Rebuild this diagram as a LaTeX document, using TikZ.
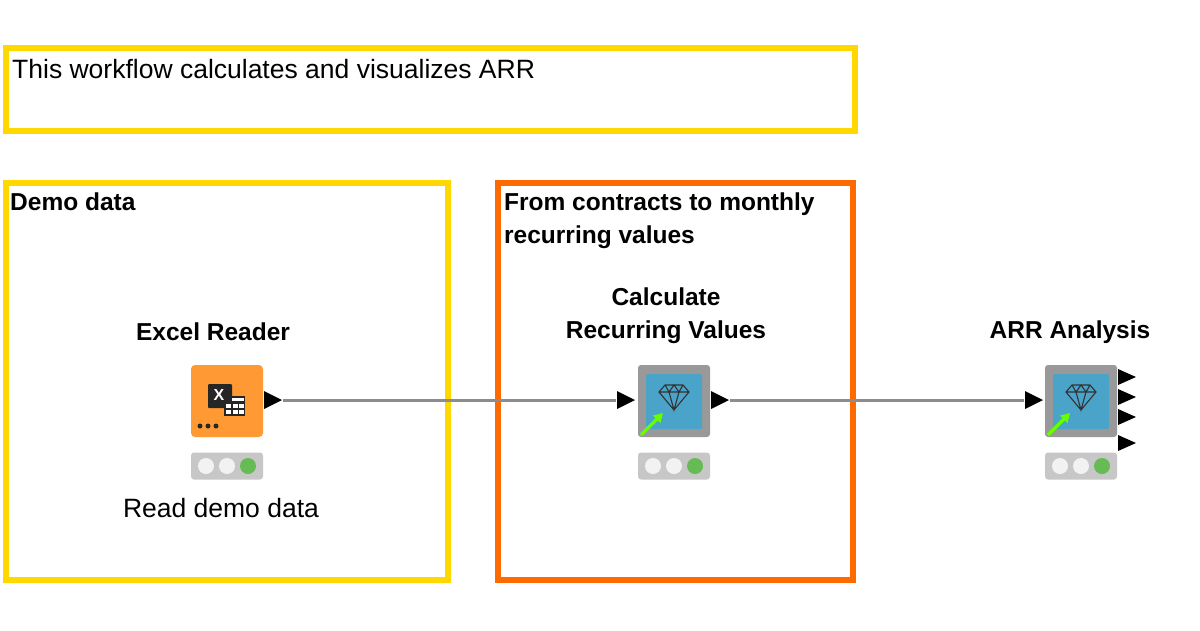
\documentclass[tikz,border=0pt]{standalone}
\usepackage{fontspec}
\usetikzlibrary{arrows.meta}
\setmainfont{Liberation Sans}
\begin{document}
\begin{tikzpicture}[x=1pt,y=-1pt,
  ybox/.style={draw=annY,line width=6pt},
  obox/.style={draw=annO,line width=6pt},
  title/.style={font=\fontsize{24.5}{33}\selectfont\bfseries,anchor=north west,align=left,inner sep=0},
  lab/.style={font=\fontsize{24.5}{33}\selectfont\bfseries,align=center,inner sep=0},
  reg/.style={font=\fontsize{26.5}{30}\selectfont,inner sep=0},
  conn/.style={draw=black!45,line width=3pt},
  port/.style={fill=black},
  light/.style={fill=black!22,rounded corners=3pt},
  gem/.style={black!80,line width=1.1pt},
  arr/.style={draw=green!60!yellow,line width=3.5pt,-{Triangle[length=9pt,width=10pt]}}]
\definecolor{annY}{HTML}{FFD800}
\definecolor{annO}{HTML}{FF6A00}
\definecolor{exo}{HTML}{FF9933}
\definecolor{mblue}{HTML}{4AA3C8}
\definecolor{lgreen}{HTML}{66BB55}
\useasboundingbox (0,0) rectangle (1200,630);
\fill[white] (0,0) rectangle (1200,630);
% annotations
\draw[ybox] (6,48) rectangle (855,131);
\node[reg,anchor=north west] (t0) at (12,59) {This workflow calculates and visualizes ARR};
\draw[ybox] (6,183) rectangle (448,580);
\node[title] (t1) at (10,193) {Demo data};
\draw[obox] (498,183) rectangle (853,580);
\node[title] (t2) at (504,193) {From contracts to monthly\\recurring values};
% Excel reader
\node[fill=exo,rounded corners=4pt,minimum size=72pt,inner sep=0] (ex) at (227,401) {};
\fill[black!85,rounded corners=1pt] (208,384) rectangle (232,408);
\node[white,font=\bfseries\fontsize{16}{16}\selectfont,inner sep=0] (xx) at (219,395) {X};
\fill[black!85] (224,396) rectangle (245,416);
\foreach \i in {0,1,2}{\foreach \j in {0,1}{\fill[white] (226+\i*6.5,404+\j*6) rectangle (231+\i*6.5,408+\j*6);}}
\fill[white] (232,398) rectangle (244,401);
\foreach \i in {0,1,2}{\fill[black!85] (200+\i*8,426) circle (2.5pt);}
\fill[port] (264,391) -- (282,400) -- (264,409) -- cycle;
\coordinate (exout) at (283,400);
\node[light,minimum width=72pt,minimum height=27pt,inner sep=0] (exl) at (227,466) {};
\fill[black!5] (206,466) circle (8pt) (227,466) circle (8pt);
\fill[lgreen] (248,466) circle (8pt);
\node[lab] (exlab) at (213,332) {Excel Reader};
\node[reg] (exd) at (221,508) {Read demo data};
% metanode 1
\node[fill=black!40,rounded corners=3pt,minimum size=72pt,inner sep=0] (m1) at (674,401) {};
\fill[mblue,rounded corners=2pt] (646,374) rectangle (702,429);
\begin{scope}[shift={(674,398)},gem]
\draw (-15,-6)--(-9,-13)--(9,-13)--(15,-6)--(0,12)--cycle (-15,-6)--(15,-6) (-5,-6)--(0,12)--(5,-6) (-9,-13)--(-5,-6)--(0,-13)--(5,-6)--(9,-13);
\end{scope}
\draw[arr] (641,435) -- (663,413);
\fill[port] (617,391) -- (635,400) -- (617,409) -- cycle;
\coordinate (m1in) at (616,400);
\fill[port] (711,391) -- (729,400) -- (711,409) -- cycle;
\coordinate (m1out) at (730,400);
\node[light,minimum width=72pt,minimum height=27pt,inner sep=0] (m1l) at (674,466) {};
\fill[black!5] (653,466) circle (8pt) (674,466) circle (8pt);
\fill[lgreen] (695,466) circle (8pt);
\node[lab] (m1lab) at (666,316) {Calculate\\Recurring Values};
% metanode 2
\node[fill=black!40,rounded corners=3pt,minimum size=72pt,inner sep=0] (m2) at (1081,401) {};
\fill[mblue,rounded corners=2pt] (1053,374) rectangle (1109,429);
\begin{scope}[shift={(1081,398)},gem]
\draw (-15,-6)--(-9,-13)--(9,-13)--(15,-6)--(0,12)--cycle (-15,-6)--(15,-6) (-5,-6)--(0,12)--(5,-6) (-9,-13)--(-5,-6)--(0,-13)--(5,-6)--(9,-13);
\end{scope}
\draw[arr] (1048,435) -- (1070,413);
\fill[port] (1025,391) -- (1043,400) -- (1025,409) -- cycle;
\coordinate (m2in) at (1024,400);
\foreach \yy in {377,397,417,443}{\fill[port] (1118,\yy-8) -- (1136,\yy) -- (1118,\yy+8) -- cycle;}
\node[light,minimum width=72pt,minimum height=27pt,inner sep=0] (m2l) at (1081,466) {};
\fill[black!5] (1060,466) circle (8pt) (1081,466) circle (8pt);
\fill[lgreen] (1102,466) circle (8pt);
\node[lab] (m2lab) at (1070,332) {ARR Analysis};
% connections
\draw[conn] (exout) -- (m1in);
\draw[conn] (m1out) -- (m2in);
\end{tikzpicture}
\end{document}
